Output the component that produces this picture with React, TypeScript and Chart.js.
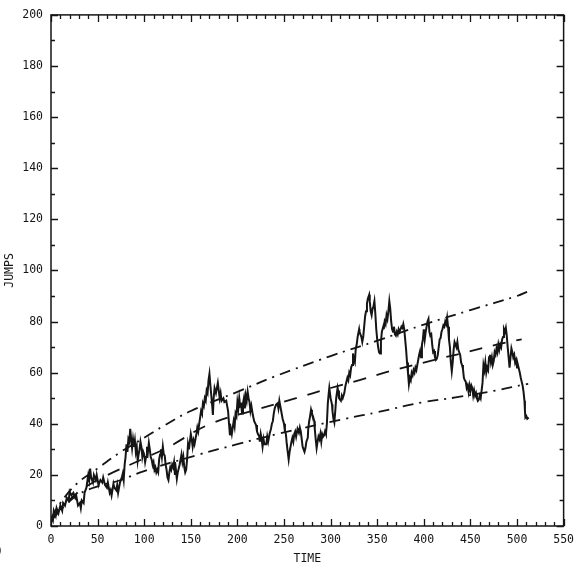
import React, { useEffect, useRef } from "react";
import { Chart, registerables } from "chart.js";

Chart.register(...registerables);

// Axis ranges / tick labels
const X_TICKS = [0, 50, 100, 150, 200, 250, 300, 350, 400, 450, 500, 550];
const Y_TICKS = [0, 20, 40, 60, 80, 100, 120, 140, 160, 180, 200];

// Observed jump counts: [time, jumps]
const JUMP_SERIES: [number, number][] = [
  [0, 3.5], [2, 2], [3, 6], [5, 4], [6, 7], [8, 5], [10, 8], [12, 6], [13, 9], [15, 8],
  [17, 11], [19, 10], [20, 13.5], [22, 12], [24, 13], [26, 11], [27, 12], [29, 8], [31, 9], [32, 7],
  [33, 10], [35, 9], [36, 13], [38, 15], [40, 20], [41, 18], [42, 22.5], [43, 19], [45, 17], [46, 20],
  [48, 18], [49, 20], [51, 16], [53, 18], [55, 17], [56, 19], [58, 16], [60, 15], [61, 17], [63, 13],
  [64, 14], [65, 12], [67, 16.5], [68, 15], [70, 14], [71, 16], [72, 13], [74, 17], [76, 19], [77, 20.5],
  [78, 18], [79, 24], [80, 27], [81, 32], [82, 29], [83, 34], [84, 33], [85, 38], [86, 34], [87, 30.5],
  [88, 34], [89, 31], [90, 33.5], [91, 29], [92, 31], [93, 25.5], [94, 28], [95, 30], [96, 33], [97, 31],
  [98, 27], [99, 29], [100, 28], [101, 25], [102, 27], [103, 31], [104, 29], [105, 32.5], [106, 30], [107, 27],
  [108, 26], [109, 24], [110, 25], [111, 22], [112, 23], [113, 21], [114, 22], [115, 21], [116, 26], [117, 28],
  [118, 30], [119, 27], [120, 31], [121, 28], [122, 27.5], [123, 24], [124, 22], [125, 19], [126, 18], [127, 21],
  [128, 23], [129, 22], [130, 24], [131, 23], [132, 25], [133, 20], [134, 22], [135, 18.5], [136, 21], [138, 24],
  [139, 26], [140, 28], [141, 25], [142, 27], [143, 23], [144, 21], [145, 22], [146, 26], [147, 32], [148, 30],
  [150, 36], [151, 34], [152, 31], [153, 33.5], [154, 32], [156, 36], [157, 38.5], [158, 37], [159, 40], [161, 45],
  [162, 44], [163, 48], [164, 47], [165, 50], [166, 49], [167, 53], [168, 52], [169, 57], [170, 59.5], [171, 55],
  [172, 51], [173, 47], [173.7, 43.5], [174.5, 50], [175.5, 54], [177, 52], [179, 56], [180, 53], [181, 50], [182, 52],
  [183, 49], [185, 50], [186, 48.5], [188, 49], [189, 47], [190, 45], [191, 40], [192, 35.5], [193, 38], [194, 36],
  [196, 41], [197, 39], [198, 44], [199, 43], [200, 48.5], [201, 46], [202, 50], [203, 47], [204, 47.5], [205, 44],
  [206, 48], [207, 50], [208, 46], [209, 51], [210, 49], [211, 52.5], [212, 50], [213, 48.5], [214, 45], [215, 47],
  [216.5, 43.5], [218, 41], [220, 39.5], [221, 37], [222, 36], [223.5, 35], [224, 33], [225, 36], [226, 34], [227, 31],
  [228, 34], [229, 32], [231, 32], [232, 35], [233, 33], [234.5, 36], [236, 38], [237, 40], [238, 41], [239, 44],
  [240, 46], [241.5, 47.5], [243, 48], [244, 46], [245, 49], [246, 47], [247, 45], [248.5, 42], [250, 40], [251, 37],
  [252, 36], [253, 32], [254, 29], [255, 26], [256, 29], [257, 31], [258, 33], [259, 34.5], [260, 33], [261, 36],
  [262, 37], [263, 35], [264.5, 38], [266, 36.5], [267, 38.5], [268, 37], [269, 34], [270, 31], [271, 30], [272, 29],
  [273, 30.5], [274, 33], [275.5, 34.5], [276, 38], [277, 41], [278, 43], [279, 45.5], [280, 44], [281, 43], [282.5, 41],
  [283, 38], [284, 34], [285, 30.5], [286, 33], [287, 35], [288, 34], [289, 36], [290, 33], [291, 36], [292, 35],
  [293, 35.5], [294, 37], [295, 36], [296, 40], [297, 48], [298, 52], [298.6, 54], [300, 50], [301.5, 47.5], [302, 45],
  [303, 42], [304, 40.5], [305, 45], [306, 50], [307.5, 54], [308, 53], [309, 50], [311, 49], [312, 51], [313, 50],
  [314.7, 52], [316, 55], [318, 58], [319, 57], [320, 60], [321, 59], [322, 62], [323, 63], [324, 67.5], [325, 65],
  [326, 64], [327, 69.5], [328, 71], [329, 74], [330.6, 77], [331, 76], [332, 75], [333, 74], [334, 72], [335, 74],
  [336, 78], [337, 82], [338, 84], [339, 87], [340, 89], [341.4, 90.5], [342, 88], [343, 84], [344, 82.5], [345, 85],
  [346, 86], [347, 88], [348, 83], [349, 77], [350, 73], [351, 70], [352, 68], [353, 67.5], [354, 72], [355, 76],
  [356.5, 78], [357, 77], [358, 80], [359, 79], [360, 82.5], [361, 81], [362, 84], [363, 88], [364, 85], [365, 80],
  [366, 77], [367, 76], [368, 78], [369, 75], [370, 74.5], [371, 76], [372, 75], [373, 77], [374, 76], [375, 77],
  [376, 78], [377, 77.5], [378, 79], [379, 77], [380, 73], [381, 69], [382, 64], [383, 60], [384, 55.5], [385, 58],
  [386, 57], [387, 60], [388, 59], [389, 61], [390, 60], [391, 62], [392, 61], [393, 63], [394, 65], [395, 67],
  [396, 68.5], [397, 66], [398, 71], [399, 73], [400, 77], [401, 73], [402, 76], [403, 78], [404, 80], [405, 81],
  [406, 76], [407, 74.5], [408, 75], [409, 71], [410, 68], [411, 68.5], [412, 66], [413, 65], [414, 65.5], [415, 67],
  [416, 70], [417, 73], [418, 73.5], [419, 76], [420, 77], [421, 78.5], [422, 78], [423, 80], [424, 79], [425, 81.5],
  [426, 78], [427, 73], [428, 70], [429, 64], [430, 60.5], [431, 64], [432, 69], [433, 72], [434, 71], [435, 70],
  [436, 72], [437, 69], [438, 68], [439, 67], [440, 64], [441, 63], [442, 61.5], [443, 58], [444, 57], [445, 56.5],
  [446, 54], [447, 55], [448, 52.5], [449, 55], [450, 53], [451, 55], [452, 54], [453, 51], [454, 53], [455, 51],
  [456, 52], [457, 50], [458, 49], [459, 49.5], [460, 51], [461, 50], [462, 53], [463, 56], [464, 63], [465, 61],
  [466, 64], [467, 60], [468, 62], [469, 61], [470, 66], [471, 67], [472, 64], [473, 66], [474, 63], [475, 64.5],
  [476, 68], [477, 67], [478, 69.5], [479, 68], [480, 71], [481, 69], [482, 71], [483, 70], [484, 73], [485, 74],
  [486, 77], [487, 76], [488, 77.5], [489, 74.5], [490, 70], [491, 66], [492, 62], [493, 66], [494, 69.5], [495, 68],
  [496, 66], [497, 67], [498, 64], [499, 65], [500, 62], [501, 63], [502, 61.5], [503, 60], [504, 58], [505, 56.5],
  [506, 55], [507, 52.5], [508, 49], [508.5, 45], [509, 42.5], [510, 43], [511, 42], [512.5, 42.5],
];

// Upper band (dash-dot)
const UPPER_TIME = [0, 10, 27.5, 50, 75, 100, 120, 150, 200, 240, 300, 350, 400, 450, 500, 512];
const UPPER_VALUE = [3, 9, 16.5, 22.5, 29, 34.5, 39, 45, 52.5, 58.5, 66.5, 72.5, 78.8, 84.5, 90, 91.8];

// Mean curve (dashed)
const MEAN_TIME = [0, 27.5, 50, 100, 125, 170, 220, 263, 300, 332, 363, 418, 448, 484, 505];
const MEAN_VALUE = [3, 12.7, 18, 26.5, 30.7, 39.8, 45.5, 50, 54, 57.2, 60.5, 65.6, 68.2, 71.5, 73];

// Lower band (dash-dot)
const LOWER_TIME = [0, 15, 30, 50, 75, 100, 159, 200, 243, 316, 350, 400, 434, 477, 507, 512];
const LOWER_VALUE = [2, 8, 12.5, 15.5, 18, 21.5, 28, 32, 36, 42, 44.5, 48.5, 50.3, 53, 55.3, 55.6];

const INK = "#151515";
const FONT = "'DejaVu Sans Mono', monospace";

const zip = (t: number[], v: number[]) => t.map((x, i) => ({ x, y: v[i] }));

const frameTicks = {
  id: "frameTicks",
  afterDatasetsDraw(chart: any) {
    const { ctx, chartArea } = chart;
    const { left, right, top, bottom } = chartArea;
    const xs = chart.scales.x;
    const ys = chart.scales.y;
    ctx.save();
    ctx.strokeStyle = INK;
    ctx.lineWidth = 1.5;
    ctx.strokeRect(left, top, right - left, bottom - top);
    ctx.lineWidth = 1.3;
    ctx.beginPath();
    for (let v = 0; v <= 550; v += 10) {
      const px = Math.round(xs.getPixelForValue(v)) + 0.5;
      const len = v % 50 === 0 ? 7 : 4;
      ctx.moveTo(px, bottom);
      ctx.lineTo(px, bottom - len);
      ctx.moveTo(px, top);
      ctx.lineTo(px, top + len);
    }
    for (let v = 0; v <= 200; v += 10) {
      const py = Math.round(ys.getPixelForValue(v)) + 0.5;
      const len = v % 20 === 0 ? 7 : 4;
      ctx.moveTo(left, py);
      ctx.lineTo(left + len, py);
      ctx.moveTo(right, py);
      ctx.lineTo(right - len, py);
    }
    ctx.stroke();
    // cut-off panel mark at left edge
    ctx.fillStyle = INK;
    ctx.font = "12px " + FONT;
    ctx.textBaseline = "middle";
    ctx.textAlign = "left";
    ctx.fillText(")", -4, 552);
    ctx.restore();
  },
};

export default function App() {
  const ref = useRef<HTMLCanvasElement | null>(null);
  useEffect(() => {
    if (!ref.current) return;
    const chart = new Chart(ref.current, {
      type: "line",
      data: {
        datasets: [
          {
            label: "Jumps",
            data: JUMP_SERIES.map(([x, y]) => ({ x, y })),
            borderColor: INK,
            borderWidth: 2,
            pointRadius: 0,
            tension: 0,
          },
          {
            label: "Upper",
            data: zip(UPPER_TIME, UPPER_VALUE),
            borderColor: INK,
            borderWidth: 1.8,
            borderDash: [11, 6, 2, 6],
            pointRadius: 0,
            tension: 0.4,
          },
          {
            label: "Mean",
            data: zip(MEAN_TIME, MEAN_VALUE),
            borderColor: INK,
            borderWidth: 1.8,
            borderDash: [13, 11],
            pointRadius: 0,
            tension: 0.4,
          },
          {
            label: "Lower",
            data: zip(LOWER_TIME, LOWER_VALUE),
            borderColor: INK,
            borderWidth: 1.8,
            borderDash: [11, 6, 2, 6],
            pointRadius: 0,
            tension: 0.4,
          },
        ],
      },
      options: {
        responsive: false,
        devicePixelRatio: 1,
        animation: false,
        layout: { padding: { top: 10, right: 16, left: 0, bottom: 0 } },
        plugins: { legend: { display: false }, tooltip: { enabled: false } },
        scales: {
          x: {
            type: "linear",
            min: 0,
            max: 550,
            afterBuildTicks: (s: any) => {
              s.ticks = X_TICKS.map((value) => ({ value }));
            },
            afterFit: (s: any) => {
              s.height = 44;
            },
            ticks: { color: INK, font: { family: FONT, size: 11.5 }, padding: 7, maxRotation: 0, autoSkip: false },
            grid: { display: false, drawTicks: false },
            border: { display: false },
            title: {
              display: true,
              text: "TIME",
              color: INK,
              font: { family: FONT, size: 11.5 },
              padding: { top: 0, bottom: 4 },
            },
          },
          y: {
            type: "linear",
            min: 0,
            max: 200,
            afterBuildTicks: (s: any) => {
              s.ticks = Y_TICKS.map((value) => ({ value }));
            },
            afterFit: (s: any) => {
              s.width = 51;
            },
            ticks: { color: INK, font: { family: FONT, size: 11.5 }, padding: 8, autoSkip: false },
            grid: { display: false, drawTicks: false },
            border: { display: false },
            title: {
              display: true,
              text: "JUMPS",
              color: INK,
              font: { family: FONT, size: 11.5 },
              padding: { top: 3, bottom: 0 },
            },
          },
        },
      },
      plugins: [frameTicks],
    } as any);
    return () => chart.destroy();
  }, []);
  return (
    <div style={{ position: "absolute", left: 0, top: 0, width: 581, height: 570, background: "#fff" }}>
      <canvas ref={ref} width={581} height={570} style={{ display: "block" }} />
    </div>
  );
}
